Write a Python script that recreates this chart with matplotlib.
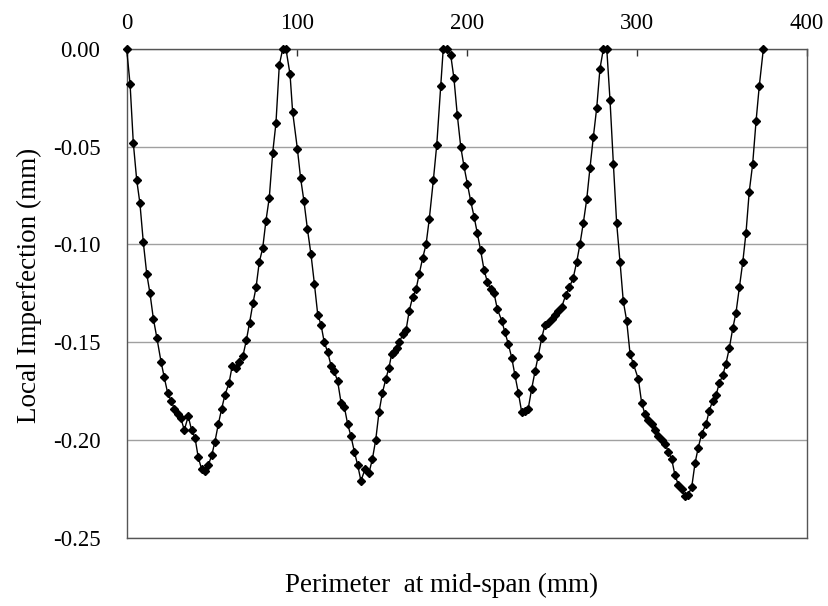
import matplotlib
matplotlib.use('Agg')

import matplotlib.pyplot as plt

# =========================
# Data
# =========================
perimeter = [
    0.0, 2.0, 3.9, 5.9, 7.8, 9.8, 11.8, 13.7, 15.7, 17.8,
    20.2, 22.1, 24.1, 26.1, 28.0, 30.0, 31.9, 33.9, 36.2, 38.2,
    40.2, 42.1, 44.1, 46.1, 48.0, 50.0, 51.9, 53.9, 55.9, 57.8,
    60.2, 62.1, 64.1, 66.1, 68.4, 70.4, 72.3, 74.3, 76.1, 78.0,
    80.0, 81.9, 83.9, 85.9, 87.8, 89.8, 91.8, 93.7, 96.1, 97.6,
    100.4, 102.3, 104.3, 106.3, 108.4, 110.4, 112.4, 114.3, 116.2, 118.2,
    120.2, 122.1, 124.1, 126.1, 128.0, 130.0, 131.9, 133.9, 135.9, 137.8,
    140.2, 142.5, 144.5, 146.5, 148.4, 150.4, 152.4, 154.3, 155.9, 157.4,
    158.8, 160.4, 162.4, 164.3, 166.2, 168.2, 170.2, 172.1, 174.1, 176.1,
    178.0, 180.4, 182.4, 184.7, 186.2, 188.2, 190.6, 192.5, 194.5, 196.5,
    198.4, 200.4, 202.4, 204.4, 206.2, 208.2, 210.2, 212.1, 214.1, 216.1,
    218.0, 220.6, 222.5, 224.5, 226.5, 228.4, 230.4, 232.4, 234.3, 236.2,
    238.2, 240.2, 242.1, 244.1, 246.1, 248.0, 250.0, 251.9, 253.9, 255.9,
    258.2, 260.4, 262.7, 264.7, 266.6, 268.6, 270.6, 272.5, 274.5, 276.5,
    278.4, 280.4, 282.4, 284.3, 286.3, 288.2, 290.2, 292.1, 294.1, 296.1,
    298.0, 301.0, 302.9, 304.9, 306.8, 308.8, 310.8, 312.7, 314.7, 316.6,
    318.6, 320.6, 322.5, 324.5, 326.5, 328.4, 330.4, 332.4, 334.3, 336.2,
    338.2, 340.8, 342.7, 344.7, 346.7, 348.6, 350.6, 352.5, 354.5, 356.5,
    358.4, 360.4, 362.4, 364.3, 366.2, 368.2, 370.2, 372.1, 374.5,
]

imperfection = [
    0.000, -0.018, -0.048, -0.067, -0.079, -0.099, -0.115, -0.125, -0.138, -0.148,
    -0.160, -0.168, -0.176, -0.180, -0.184, -0.187, -0.189, -0.195, -0.188, -0.195,
    -0.199, -0.209, -0.215, -0.216, -0.213, -0.208, -0.201, -0.192, -0.184, -0.177,
    -0.171, -0.162, -0.163, -0.160, -0.157, -0.149, -0.140, -0.130, -0.122, -0.109,
    -0.102, -0.088, -0.076, -0.053, -0.038, -0.008, 0.000, 0.000, -0.013, -0.032,
    -0.051, -0.066, -0.078, -0.092, -0.105, -0.120, -0.136, -0.141, -0.150, -0.155,
    -0.162, -0.165, -0.170, -0.181, -0.183, -0.192, -0.198, -0.206, -0.213, -0.221,
    -0.215, -0.217, -0.210, -0.200, -0.186, -0.176, -0.169, -0.163, -0.156, -0.155,
    -0.153, -0.150, -0.146, -0.144, -0.134, -0.127, -0.123, -0.115, -0.107, -0.100,
    -0.087, -0.067, -0.049, -0.019, 0.000, 0.000, -0.003, -0.015, -0.034, -0.050,
    -0.060, -0.069, -0.078, -0.086, -0.094, -0.103, -0.113, -0.119, -0.123, -0.125,
    -0.133, -0.139, -0.145, -0.151, -0.158, -0.167, -0.176, -0.186, -0.185, -0.184,
    -0.174, -0.165, -0.157, -0.148, -0.141, -0.140, -0.138, -0.136, -0.134, -0.132,
    -0.126, -0.122, -0.117, -0.109, -0.100, -0.089, -0.077, -0.061, -0.045, -0.030,
    -0.010, 0.000, 0.000, -0.026, -0.059, -0.089, -0.109, -0.129, -0.139, -0.156,
    -0.161, -0.169, -0.181, -0.187, -0.190, -0.192, -0.195, -0.198, -0.200, -0.202,
    -0.206, -0.210, -0.218, -0.223, -0.225, -0.229, -0.228, -0.224, -0.212, -0.204,
    -0.197, -0.192, -0.185, -0.180, -0.177, -0.171, -0.167, -0.161, -0.153, -0.143,
    -0.135, -0.122, -0.109, -0.094, -0.073, -0.059, -0.037, -0.019, 0.000,
]

x_ticks = [0, 100, 200, 300, 400]
y_ticks = [0.00, -0.05, -0.10, -0.15, -0.20, -0.25]

# =========================
# Figure
# =========================
plt.rcParams['font.family'] = ['Liberation Serif', 'DejaVu Serif']

fig = plt.figure(figsize=(8.29, 6.06), dpi=100)
ax = fig.add_axes([0.1528, 0.113, 0.8203, 0.8061])

ax.plot(perimeter, imperfection, color='black', linewidth=1.0,
        marker='D', markersize=3.8, markerfacecolor='black',
        markeredgecolor='black', clip_on=False, zorder=3)

ax.set_xlim(0, 400)
ax.set_ylim(-0.25, 0.0)
ax.set_xticks(x_ticks)
ax.set_yticks(y_ticks)
ax.set_yticklabels([f"{v:.2f}" for v in y_ticks])

ax.xaxis.tick_top()
ax.tick_params(axis='x', direction='in', length=5, width=1, color='#333333',
               labelsize=16.5, pad=11)
ax.tick_params(axis='y', direction='out', length=0, labelsize=16.5, pad=19)

ax.grid(axis='y', color='#a0a0a0', linewidth=1.0)
ax.set_axisbelow(True)
for s in ax.spines.values():
    s.set_color('#555555')
    s.set_linewidth(1.0)

ax.set_xlabel("Perimeter  at mid-span (mm)", fontsize=19.5)
ax.xaxis.set_label_position('bottom')
ax.xaxis.set_label_coords(0.4637, -0.072)
ax.set_ylabel("Local Imperfection (mm)", fontsize=19.5)
ax.yaxis.set_label_coords(-0.1246, 0.517)

plt.savefig("out.png", dpi=100)
plt.close()
